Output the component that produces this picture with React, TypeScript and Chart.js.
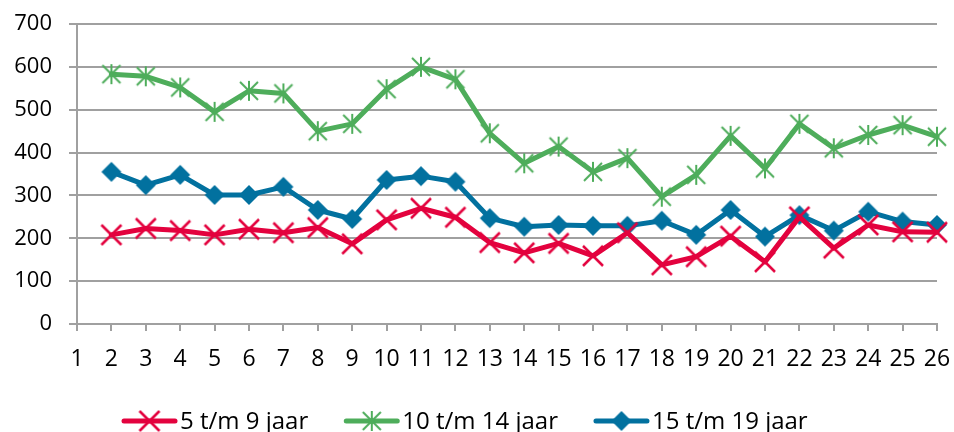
import React, { useEffect, useRef } from 'react';
import { Chart, registerables } from 'chart.js';

Chart.register(...registerables);

const categories = ['1','2','3','4','5','6','7','8','9','10','11','12','13','14','15','16','17','18','19','20','21','22','23','24','25','26'];
const seriesNames = ['5 t/m 9 jaar', '10 t/m 14 jaar', '15 t/m 19 jaar'];
const values5to9 = [null, 208, 223, 218, 208, 221, 213, 225, 187, 243, 270, 249, 190, 166, 188, 159, 213, 138, 157, 205, 145, 250, 177, 231, 215, 214];
const values10to14 = [null, 583, 578, 552, 495, 544, 538, 450, 467, 548, 600, 571, 445, 375, 414, 355, 387, 297, 348, 439, 363, 467, 410, 441, 464, 437];
const values15to19 = [null, 355, 324, 348, 301, 301, 320, 266, 245, 336, 345, 332, 247, 227, 231, 229, 229, 241, 208, 266, 204, 254, 218, 262, 239, 231];
const yTicks = [0, 100, 200, 300, 400, 500, 600, 700];

const RED = '#E3023E';
const GREEN = '#4EAD5B';
const BLUE = '#02719F';
const GRID = '#A0A0A0';
const FONT = '"Open Sans", "Noto Sans", sans-serif';

function makeMarker(kind: string, color: string): HTMLCanvasElement {
  const c = document.createElement('canvas');
  c.width = 30;
  c.height = 30;
  const ctx = c.getContext('2d')!;
  const m = 15;
  ctx.strokeStyle = color;
  ctx.fillStyle = color;
  ctx.lineCap = 'butt';
  if (kind === 'x') {
    const h = 10;
    ctx.lineWidth = 2.5;
    ctx.beginPath();
    ctx.moveTo(m - h, m - h); ctx.lineTo(m + h, m + h);
    ctx.moveTo(m + h, m - h); ctx.lineTo(m - h, m + h);
    ctx.stroke();
  } else if (kind === 'star') {
    const h = 9;
    ctx.lineWidth = 2;
    ctx.beginPath();
    ctx.moveTo(m - h, m - h); ctx.lineTo(m + h, m + h);
    ctx.moveTo(m + h, m - h); ctx.lineTo(m - h, m + h);
    ctx.moveTo(m, m - h - 1); ctx.lineTo(m, m + h + 1);
    ctx.stroke();
  } else {
    const h = 10;
    ctx.beginPath();
    ctx.moveTo(m, m - h); ctx.lineTo(m + h, m); ctx.lineTo(m, m + h); ctx.lineTo(m - h, m);
    ctx.closePath();
    ctx.fill();
  }
  return c;
}

export default function App() {
  const ref = useRef<HTMLCanvasElement | null>(null);
  useEffect(() => {
    document.body.style.margin = '0';
    const canvas = ref.current!;
    const markers = [makeMarker('x', RED), makeMarker('star', GREEN), makeMarker('diamond', BLUE)];
    const colors = [RED, GREEN, BLUE];
    const data = [values5to9, values10to14, values15to19];

    const legendPlugin = {
      id: 'customLegend',
      afterDraw(chart: any) {
        const ctx = chart.ctx as CanvasRenderingContext2D;
        ctx.save();
        ctx.font = `24px ${FONT}`;
        ctx.textBaseline = 'middle';
        ctx.textAlign = 'left';
        let x = 122;
        const y = 421;
        seriesNames.forEach((name, i) => {
          ctx.strokeStyle = colors[i];
          ctx.lineWidth = 5;
          ctx.lineCap = 'round';
          ctx.beginPath();
          ctx.moveTo(x + 2, y);
          ctx.lineTo(x + 53, y);
          ctx.stroke();
          ctx.drawImage(markers[i], x + 27.5 - 15, y - 15);
          ctx.fillStyle = '#000';
          ctx.fillText(name, x + 58, y + 1);
          x += 58 + ctx.measureText(name).width + 36;
        });
        ctx.restore();
      },
    };

    const chart = new Chart(canvas, {
      type: 'line',
      data: {
        labels: categories,
        datasets: data.map((d, i) => ({
          label: seriesNames[i],
          data: d,
          borderColor: colors[i],
          backgroundColor: colors[i],
          borderWidth: 5,
          borderJoinStyle: 'round' as const,
          borderCapStyle: 'round' as const,
          pointStyle: markers[i],
          pointRadius: 10,
          pointHoverRadius: 10,
          tension: 0,
          spanGaps: false,
        })),
      },
      options: {
        animation: false,
        responsive: false,
        maintainAspectRatio: false,
        events: [],
        layout: { padding: { left: 0, right: 17, top: 24, bottom: 58 } },
        plugins: {
          legend: { display: false },
          tooltip: { enabled: false },
        },
        scales: {
          x: {
            type: 'category',
            offset: false,
            grid: {
              display: true,
              drawOnChartArea: false,
              drawTicks: true,
              tickLength: 7,
              color: GRID,
              lineWidth: 2,
            },
            border: { display: true, color: GRID, width: 2 },
            ticks: {
              font: { family: FONT, size: 23 },
              color: '#000',
              padding: 15,
              maxRotation: 0,
              autoSkip: false,
            },
            afterFit(scale: any) {
              scale.height = 50;
              scale.paddingLeft = 0;
              scale.paddingRight = 0;
            },
          },
          y: {
            min: 0,
            max: 700,
            afterBuildTicks(scale: any) { scale.ticks = yTicks.map((v) => ({ value: v })); },
            grid: { color: GRID, lineWidth: 2, tickLength: 8, drawTicks: true },
            border: { display: true, color: GRID, width: 2 },
            ticks: {
              font: { family: FONT, size: 22 },
              color: '#000',
              padding: 17,
            },
            afterFit(scale: any) {
              scale.width = 77;
              scale.paddingTop = 0;
              scale.paddingBottom = 0;
            },
          },
        },
      },
      plugins: [legendPlugin],
    });
    return () => chart.destroy();
  }, []);
  return (
    <div style={{ width: 954, height: 432 }}>
      <canvas ref={ref} width={954} height={432} style={{ display: 'block', width: 954, height: 432 }} />
    </div>
  );
}
